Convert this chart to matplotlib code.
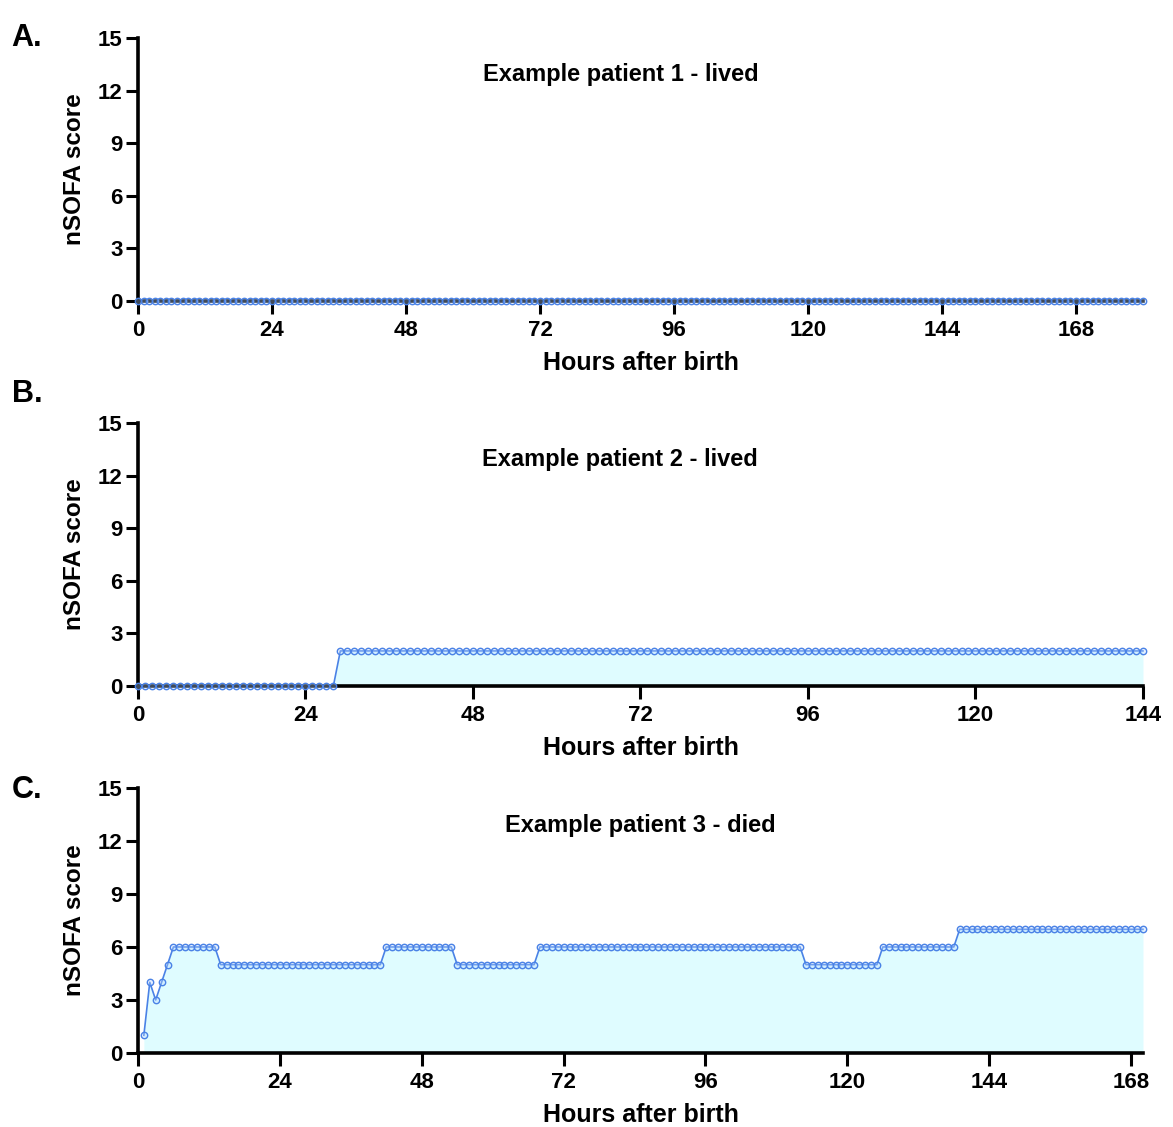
import numpy as np
import matplotlib
matplotlib.use('Agg')
import matplotlib.pyplot as plt

plt.rcParams['font.family'] = ['Liberation Sans', 'DejaVu Sans']
plt.rcParams['font.weight'] = 'bold'

# patient 1: hourly scores, all zero
p1_hours = np.arange(0, 181)
p1_score = np.zeros(len(p1_hours))

# patient 2: zero until hour 28, then 2
p2_hours = np.arange(0, 145)
p2_score = np.array([0] * 29 + [2] * 116)

# patient 3: hourly from hour 1 to 170
p3_hours = np.arange(1, 171)
p3_score = np.array([1, 4, 3, 4, 5]
                    + [6] * 8      # 6-13
                    + [5] * 28     # 14-41
                    + [6] * 12     # 42-53
                    + [5] * 14     # 54-67
                    + [6] * 45     # 68-112
                    + [5] * 13     # 113-125
                    + [6] * 13     # 126-138
                    + [7] * 32)    # 139-170

panels = [
    ('A.', 'Example patient 1 - lived', p1_hours, p1_score, 180, 0.48),
    ('B.', 'Example patient 2 - lived', p2_hours, p2_score, 144, 0.48),
    ('C.', 'Example patient 3 - died', p3_hours, p3_score, 170, 0.50),
]
# axes boxes in figure fractions (left, bottom, width, height)
boxes = [
    (0.1176, 0.7329, 0.8568, 0.2334),
    (0.1176, 0.3913, 0.8568, 0.2334),
    (0.1176, 0.0657, 0.8568, 0.2351),
]
letter_y = [0.966, 0.650, 0.299]

edge = '#4a82e6'
fill = '#dffcff'

fig = plt.figure(figsize=(11.73, 11.27), dpi=100)

for (letter, title, hrs, score, xmax, tx), box, ly in zip(panels, boxes, letter_y):
    ax = fig.add_axes(box)
    ax.fill_between(hrs, 0, score, color=fill, lw=0, zorder=1)
    # line sits under the axis spine so zero runs show the black axis through the markers
    ax.plot(hrs, score, '-', color=edge, lw=1.2, zorder=2, clip_on=False)
    ax.plot(hrs, score, 'o', ms=4.6, mec=edge, mfc=(0.72, 0.84, 1.0, 0.35),
            mew=1.0, zorder=5, clip_on=False)
    ax.set_xlim(0, xmax)
    ax.set_ylim(0, 15)
    ax.set_xticks(np.arange(0, xmax + 1, 24))
    ax.set_yticks(np.arange(0, 16, 3))
    for s in ['top', 'right']:
        ax.spines[s].set_visible(False)
    for s in ['left', 'bottom']:
        ax.spines[s].set_linewidth(2.6)
        ax.spines[s].set_zorder(3)
    ax.tick_params(axis='both', width=2.2, length=9, labelsize=16)
    ax.tick_params(axis='y', pad=2)
    ax.tick_params(axis='x', pad=5)
    ax.set_xlabel('Hours after birth', fontsize=18, fontweight='bold')
    ax.set_ylabel('nSOFA score', fontsize=17.5, fontweight='bold')
    ax.xaxis.set_label_coords(0.5, -0.19)
    ax.yaxis.set_label_coords(-0.052, 0.5)
    ax.text(tx, 0.86, title, transform=ax.transAxes, ha='center', va='center',
            fontsize=17, fontweight='bold')
    fig.text(0.01, ly, letter, fontsize=22, fontweight='bold', va='center', ha='left')

fig.savefig('out.png', dpi=100, facecolor='white')
